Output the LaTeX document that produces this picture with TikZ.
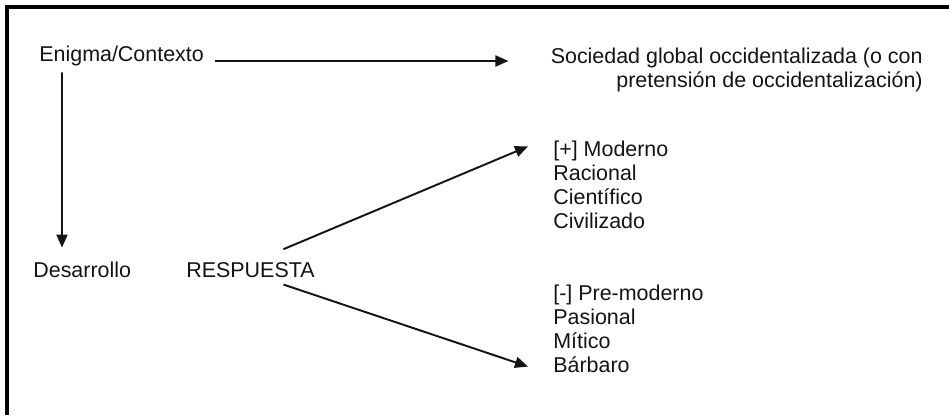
\documentclass[tikz,border=0pt]{standalone}
\usepackage{fontspec}
\setmainfont{Liberation Sans}
\usepackage{xcolor}
\usepackage{tikz}
\usetikzlibrary{arrows.meta, positioning, calc}
\definecolor{mydark}{RGB}{20,20,20}
\tikzset{
  label/.style={inner sep=0pt, anchor=base west, text=mydark,
    font=\fontsize{12.2}{13.6}\selectfont},
  listlabel/.style={label, align=left},
  arrow/.style={-{Triangle[length=0.26cm, width=0.22cm]}, line width=1.1pt, color=mydark},
  frame/.style={line width=1.8pt, color=black}
}
\begin{document}
\begin{tikzpicture}
  \useasboundingbox (0,0) rectangle (18.98,8.30);
  % Frame
  \draw[frame] (0.14,0) -- (0.14,8.16) -- (18.98,8.16);

  % Labels (multi-line nodes sit on their last line)
  \node[label] (enigma) at (0.78,7.08) {Enigma/Contexto};
  \node[label, anchor=base east, align=right] (sociedad) at (18.46,6.56)
    {Sociedad global occidentalizada (o con\\pretensión de occidentalización)};
  \node[label] (desarrollo) at (0.66,2.76) {Desarrollo};
  \node[label] (respuesta) at (3.72,2.76) {RESPUESTA};
  \node[listlabel] (moderno) at (11.06,3.74)
    {[+] Moderno\\Racional\\Científico\\Civilizado};
  \node[listlabel] (premoderno) at (11.06,0.86)
    {[-] Pre-moderno\\Pasional\\Mítico\\Bárbaro};

  % Arrows
  \draw[arrow, shorten <=0.22cm, shorten >=0.84cm] (enigma.base east) -- (enigma.base east -| sociedad.west);
  \draw[arrow] ([xshift=0.46cm, yshift=-0.13cm]enigma.south west) -- ([xshift=0.58cm, yshift=0.27cm]desarrollo.north west);
  \draw[arrow] ([xshift=0.66cm, yshift=0.25cm]respuesta.north) -- ([xshift=-0.5cm, yshift=-0.12cm]moderno.north west);
  \draw[arrow] ([xshift=0.66cm, yshift=-0.14cm]respuesta.south) -- ([xshift=-0.5cm, yshift=0.12cm]premoderno.south west);
\end{tikzpicture}
\end{document}
